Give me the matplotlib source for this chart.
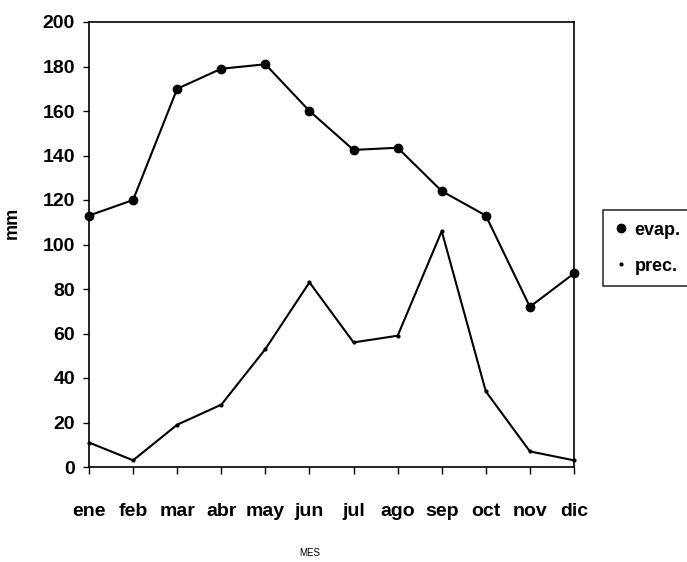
import matplotlib
matplotlib.use("Agg")
import matplotlib.pyplot as plt

months = ["ene", "feb", "mar", "abr", "may", "jun", "jul", "ago", "sep", "oct", "nov", "dic"]
evap = [113, 120, 170, 179, 181, 160, 142.5, 143.5, 124, 113, 72, 87]
prec = [11, 3, 19, 28, 53, 83, 56, 59, 106, 34, 7, 3]
yticks = [0, 20, 40, 60, 80, 100, 120, 140, 160, 180, 200]

plt.rcParams["font.family"] = ["Liberation Sans", "DejaVu Sans"]
plt.rcParams["font.weight"] = "bold"

fig = plt.figure(figsize=(6.87, 5.62), dpi=100)
ax = fig.add_axes([89/687, 1-467/562, (574-89)/687, (467-22)/562])

x = list(range(len(months)))
ax.plot(x, evap, color="black", lw=1.5, marker="o", ms=6, label="evap.", clip_on=False, zorder=3)
ax.plot(x, prec, color="black", lw=1.5, marker="o", ms=2, label="prec.", clip_on=False, zorder=3)

ax.set_xlim(0, 11)
ax.set_ylim(0, 200)
ax.set_xticks(x)
ax.set_xticklabels(months, fontsize=14, fontweight="bold")
ax.set_yticks(yticks)
ax.set_yticklabels([str(v) for v in yticks], fontsize=14, fontweight="bold")
ax.tick_params(axis="x", direction="out", length=5, width=1, pad=21)
ax.tick_params(axis="y", direction="out", length=4, width=1, pad=6)
for s in ax.spines.values():
    s.set_linewidth(1.2)

fig.text(12/687, 1-223/562, "mm", rotation=90, ha="center", va="center", fontsize=13, fontweight="bold")
fig.text(310/687, 1-553/562, "MES", ha="center", va="center", fontsize=7, fontweight="normal")

leg = fig.legend(loc="upper left", bbox_to_anchor=(603/687, 1-210/562), frameon=True,
                 fancybox=False, edgecolor="black", handlelength=0.7,
                 handletextpad=0.4, borderpad=0.65, labelspacing=1.05, borderaxespad=0,
                 prop={"weight": "bold", "size": 13})
for h in leg.legend_handles:
    h.set_linestyle("none")
leg.get_frame().set_linewidth(1.2)

fig.savefig("out.png", dpi=100)
